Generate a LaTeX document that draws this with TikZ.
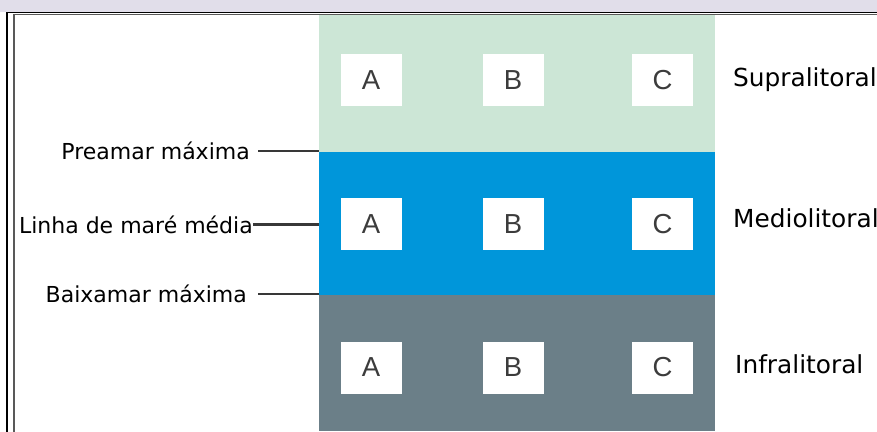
\documentclass[tikz,border=0pt]{standalone}
\usepackage{fontspec}
\setmainfont{DejaVu Sans}
\newfontfamily\boxfont{Liberation Sans}
\definecolor{supragreen}{RGB}{204,230,214}
\definecolor{medioblue}{RGB}{0,150,218}
\definecolor{infragray}{RGB}{107,127,136}
\definecolor{topband}{RGB}{225,222,234}
\definecolor{lettergray}{RGB}{60,60,60}

\begin{document}
\begin{tikzpicture}[x=1pt, y=-1pt]
    \tikzset{zone/.style={shape=rectangle, minimum width=396pt, inner sep=0pt, outer sep=0pt},
      spot/.style={fill=white, minimum width=61pt, minimum height=52pt, inner sep=0pt, text=lettergray, font=\boxfont\fontsize{27.5}{28}\selectfont},
      level/.style={anchor=east, inner sep=0pt, font=\fontsize{22}{26}\selectfont},
      zonename/.style={anchor=base west, inner sep=0pt, font=\fontsize{24.8}{28}\selectfont},
      tide/.style={draw=black!78, line width=2.4pt}}

    \useasboundingbox (0,0) rectangle (877,431);
    \fill[topband] (0,0) rectangle (877,12);
    \draw[line width=1.5pt] (7,12.5) rectangle (890,450);
    \draw[black!65, line width=1.5pt] (14,14.5) rectangle (885,445);

    \draw (517,83.5) node (supra) [zone, fill=supragreen, minimum height=137pt] {};
    \draw (517,223.5) node (medio) [zone, fill=medioblue, minimum height=143pt] {};
    \draw (517,363) node (infra) [zone, fill=infragray, minimum height=136pt] {};

    \draw (371,80) node (a1) [spot] {A};
    \draw (513,80) node (b1) [spot] {B};
    \draw (662.5,80) node (c1) [spot] {C};
    \draw (371,224) node (a2) [spot] {A};
    \draw (513,224) node (b2) [spot] {B};
    \draw (662.5,224) node (c2) [spot] {C};
    \draw (371,367.5) node (a3) [spot] {A};
    \draw (513,367.5) node (b3) [spot] {B};
    \draw (662.5,367.5) node (c3) [spot] {C};

    \draw (733,86) node (supraname) [zonename] {Supralitoral};
    \draw (733,227) node (medioname) [zonename] {Mediolitoral};
    \draw (735,373) node (infraname) [zonename] {Infralitoral};

    \draw (250,151) node (preamar) [level] {Preamar máxima};
    \draw (253,224.5) node (media) [level] {Linha de maré média};
    \draw (247,294) node (baixamar) [level] {Baixamar máxima};

    \draw[tide] (preamar.east) ++(8,0) -- (preamar.east -| supra.west);
    \draw[tide] (media.east) -- (media.east -| medio.west);
    \draw[tide] (baixamar.east) ++(11,0) -- (baixamar.east -| infra.west);
\end{tikzpicture}
\end{document}
